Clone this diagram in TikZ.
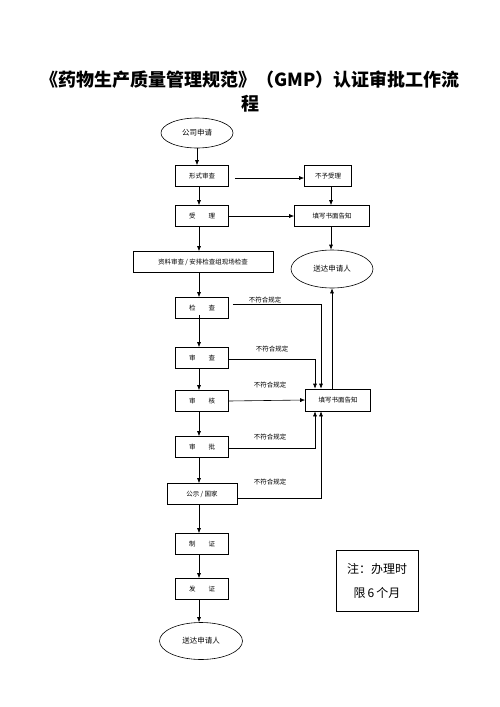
\documentclass[tikz,border=0pt]{standalone}
\usepackage{fontspec}
\setmainfont{Noto Sans CJK SC}
\newfontfamily\cjk{Noto Sans CJK SC}
\usetikzlibrary{arrows.meta,shapes.geometric}
\begin{document}
\begin{tikzpicture}[x=1pt,y=-1pt,
  box/.style={draw,line width=0.6pt,minimum height=21pt,inner sep=0pt,font=\fontsize{6.5}{7}\selectfont},
  oval/.style={draw,ellipse,line width=0.6pt,inner sep=0pt,font=\fontsize{7.5}{8}\selectfont},
  arr/.style={line width=0.6pt,-{Latex[length=5pt,width=4pt]}},
  ln/.style={line width=0.6pt},
  lab/.style={font=\fontsize{6.5}{7}\selectfont,inner sep=0pt}]
\useasboundingbox (0,0) rectangle (500,707);
\node[font=\fontsize{18}{20}\selectfont\bfseries] (t1) at (250,80) {《药物生产质量管理规范》（GMP）认证审批工作流};
\node[font=\fontsize{18}{20}\selectfont\bfseries] (t2) at (250,104) {程};

\node[oval,minimum width=72pt,minimum height=30pt] (s) at (197,133) {公司申请};
\node[box,minimum width=53pt] (xs) at (202,176) {形式审查};
\node[box,minimum width=47pt] (bs) at (328,176) {不予受理};
\node[box,minimum width=53pt] (sl) at (202,216) {受\qquad 理};
\node[box,minimum width=75pt] (tx1) at (332,216) {填写书面告知};
\node[oval,minimum width=82pt,minimum height=38pt] (sd1) at (332,269) {送达申请人};
\node[box,minimum width=140pt] (wide) at (203,262) {资料审查 / 安排检查组现场检查};
\node[box,minimum width=53pt] (jc) at (202,308) {检\qquad 查};
\node[box,minimum width=53pt] (sc) at (202,358) {审\qquad 查};
\node[box,minimum width=53pt] (sh) at (202,401) {审\qquad 核};
\node[box,minimum width=53pt] (sp) at (202,447) {审\qquad 批};
\node[box,minimum width=70pt] (gs) at (202,494) {公示 / 国家};
\node[box,minimum width=53pt] (zz) at (202,544) {制\qquad 证};
\node[box,minimum width=53pt] (fz) at (202,589) {发\qquad 证};
\node[oval,minimum width=83pt,minimum height=37pt] (sd2) at (201,641) {送达申请人};
\node[box,minimum width=65pt,minimum height=22pt] (tx2) at (338,400) {填写书面告知};
\node[draw,line width=0.6pt,minimum width=82pt,minimum height=61pt,align=center,font=\fontsize{12}{24}\selectfont] (note) at (377,581) {注：办理时\\限\,6\,个月};

% main chain
\draw[arr] (s.south -| 197,0) -- (xs.north -| 197,0);
\draw[arr] (xs.south -| 199,0) -- (sl.north -| 199,0);
\draw[arr] (sl.south -| 199,0) -- (wide.north -| 199,0);
\draw[arr] (wide.south -| 199,0) -- (jc.north -| 199,0);
\draw[arr] ([yshift=4pt]jc.south -| 199,0) -- (sc.north -| 199,0);
\draw[arr] (sc.south -| 199,0) -- (sh.north -| 199,0);
\draw[arr] (sh.south -| 199,0) -- (sp.north -| 199,0);
\draw[arr] (sp.south -| 199,0) -- (gs.north -| 199,0);
\draw[arr] (gs.south -| 199,0) -- (zz.north -| 199,0);
\draw[arr] (zz.south -| 199,0) -- (fz.north -| 199,0);
\draw[arr] (fz.south -| 199,0) -- (sd2.north -| 199,0);

% right side
\draw[arr] ([xshift=6pt,yshift=-2pt]xs.east) -- ([yshift=-2pt]bs.west);
\draw[arr] (sl.east) -- (tx1.west);
\draw[arr] (bs.south -| 331,0) -- (tx1.north -| 331,0);
\draw[arr] (tx1.south -| 331,0) -- (sd1.north -| 331,0);
\draw[arr] (tx2.north -| 332,0) -- (sd1.south -| 332,0);

% rejections
\draw[arr] ([xshift=4pt,yshift=4pt]jc.east) -| (tx2.north -| 321,0);
\node[lab] (l1) at (265,300) {不符合规定};
\draw[arr] ([yshift=-1pt]sc.east) -| (tx2.north -| 315,0);
\node[lab] (l2) at (272,349) {不符合规定};
\draw[arr] (sh.east) -- (tx2.west);
\node[lab] (l3) at (270,385) {不符合规定};
\draw[arr] ([yshift=-1pt]sp.east) -| (tx2.south -| 315,0);
\node[lab] (l4) at (270,437) {不符合规定};
\draw[arr] ([yshift=-4pt]gs.east) -| (tx2.south -| 321,0);
\node[lab] (l5) at (270,482) {不符合规定};
\end{tikzpicture}
\end{document}
